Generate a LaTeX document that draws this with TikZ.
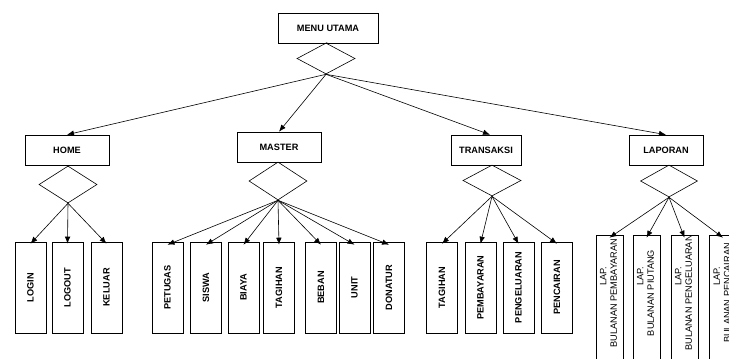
\documentclass[tikz,border=0pt]{standalone}
\usepackage{fontspec}
\setmainfont{Liberation Sans}
\usepackage{graphicx}
\usetikzlibrary{shapes.geometric,arrows.meta}

% rotated labels for the small boxes
\newcommand{\vlabel}[1]{\rotatebox{90}{#1}}
\newcommand{\laplabel}[1]{\rotatebox{90}{\hspace*{34pt}\begin{tabular}{@{}c@{}}\hspace*{34pt}LAP.\\#1\end{tabular}}}

\begin{document}
\begin{tikzpicture}[x=1pt,y=-1pt,
    menubox/.style={draw,line width=0.6pt,rectangle,minimum height=30pt,inner sep=0pt,
        font=\fontsize{9.2}{11}\selectfont\bfseries},
    pick/.style={draw,line width=0.6pt,diamond,inner sep=0pt,minimum width=58pt},
    itembox/.style={draw,line width=0.6pt,rectangle,minimum width=31pt,minimum height=91pt,inner sep=0pt,
        font=\fontsize{9.2}{11}\selectfont\bfseries},
    lapbox/.style={draw,line width=0.6pt,rectangle,minimum width=27pt,minimum height=150pt,inner sep=0pt,
        font=\fontsize{9.2}{10.5}\selectfont},
    link/.style={line width=0.6pt,-{Latex[length=7pt,width=5.5pt]}}]

    % --- Frame ---
    \useasboundingbox (0,0) rectangle (729,359);
    \clip (0,0) rectangle (729,359);

    % --- Top menu ---
    \node[menubox,minimum width=100pt] (menu) at (328,28) {MENU UTAMA};
    \node[pick,minimum height=31pt] (dmenu) at (326,58.5) {};

    % --- Second level ---
    \node[menubox,minimum width=84pt] (home) at (67,150) {HOME};
    \node[pick,minimum height=37pt] (dhome) at (68,184.5) {};

    \node[menubox,minimum width=84pt] (master) at (279,147) {MASTER};
    \node[pick,minimum height=38pt] (dmaster) at (278,181) {};

    \node[menubox,minimum width=70pt] (transaksi) at (486,150) {TRANSAKSI};
    \node[pick,minimum height=31pt] (dtransaksi) at (492,180.5) {};

    \node[menubox,minimum width=74pt] (laporan) at (666,150) {LAPORAN};
    \node[pick,minimum height=32pt,minimum width=57pt] (dlaporan) at (669,181) {};

    % --- HOME items ---
    \node[itembox] (login) at (30.5,287.5) {\vlabel{LOGIN}};
    \node[itembox] (logout) at (67.5,287.5) {\vlabel{LOGOUT}};
    \node[itembox] (keluar) at (106.5,287.5) {\vlabel{KELUAR}};

    % --- MASTER items ---
    \node[itembox] (petugas) at (167.5,287.5) {\vlabel{PETUGAS}};
    \node[itembox] (siswa) at (206,287.5) {\vlabel{SISWA}};
    \node[itembox] (biaya) at (243.5,287.5) {\vlabel{BIAYA}};
    \node[itembox] (tagihan) at (279,287.5) {\vlabel{TAGIHAN}};
    \node[itembox] (beban) at (321,287.5) {\vlabel{BEBAN}};
    \node[itembox] (unit) at (354.5,287.5) {\vlabel{UNIT}};
    \node[itembox] (donatur) at (389,287.5) {\vlabel{DONATUR}};

    % --- TRANSAKSI items ---
    \node[itembox] (ttagihan) at (442,287.5) {\vlabel{TAGIHAN}};
    \node[itembox] (pembayaran) at (480.5,287.5) {\vlabel{PEMBAYARAN}};
    \node[itembox] (pengeluaran) at (518.5,287.5) {\vlabel{PENGELUARAN}};
    \node[itembox] (pencairan) at (557,287.5) {\vlabel{PENCAIRAN}};

    % --- LAPORAN items ---
    \node[lapbox] (lpembayaran) at (609.5,310) {\laplabel{BULANAN PEMBAYARAN}};
    \node[lapbox] (lpiutang) at (646.5,310) {\laplabel{BULANAN PIUTANG}};
    \node[lapbox] (lpengeluaran) at (684.5,310) {\laplabel{BULANAN PENGELUARAN}};
    \node[lapbox] (lpencairan) at (723,310) {\laplabel{BULANAN PENCAIRAN}};

    % --- Boxes to their diamonds ---
    \draw[line width=0.6pt] (menu.south) -- (dmenu.north);

    % --- Menu links ---
    \draw[link] (dmenu.south) -- (home.north);
    \draw[link] (dmenu.south) -- (master.north);
    \draw[link] (dmenu.south) -- ([xshift=4pt]transaksi.north);
    \draw[link] (dmenu.south) -- (laporan.north);

    % --- HOME links ---
    \draw[link] (dhome.south) -- ([yshift=-2pt]login.north);
    \draw[link] (dhome.south) -- ([yshift=-2pt]logout.north);
    \draw[link] (dhome.south) -- ([yshift=-2pt]keluar.north);

    % --- MASTER links ---
    \draw[link] (dmaster.south) -- ([yshift=-3pt]petugas.north);
    \draw[link] (dmaster.south) -- ([yshift=-3pt]siswa.north);
    \draw[link] (dmaster.south) -- ([yshift=-3pt]biaya.north);
    \draw[link] (dmaster.south) -- ([yshift=-3pt]tagihan.north);
    \draw[link] (dmaster.south) -- ([yshift=-3pt]beban.north);
    \draw[link] (dmaster.south) -- ([yshift=-3pt]unit.north);
    \draw[link] (dmaster.south) -- ([yshift=-3pt]donatur.north);

    % --- TRANSAKSI links ---
    \draw[link] (dtransaksi.south) -- ([yshift=-2pt]ttagihan.north);
    \draw[link] (dtransaksi.south) -- ([yshift=-2pt]pembayaran.north);
    \draw[link] (dtransaksi.south) -- ([yshift=-2pt]pengeluaran.north);
    \draw[link] (dtransaksi.south) -- ([yshift=-2pt]pencairan.north);

    % --- LAPORAN links ---
    \draw[link] (dlaporan.south) -- ([yshift=-3pt]lpembayaran.north);
    \draw[link] (dlaporan.south) -- ([yshift=-3pt]lpiutang.north);
    \draw[link] (dlaporan.south) -- ([yshift=-3pt]lpengeluaran.north);
    \draw[link] (dlaporan.south) -- ([yshift=-3pt]lpencairan.north);

\end{tikzpicture}
\end{document}
